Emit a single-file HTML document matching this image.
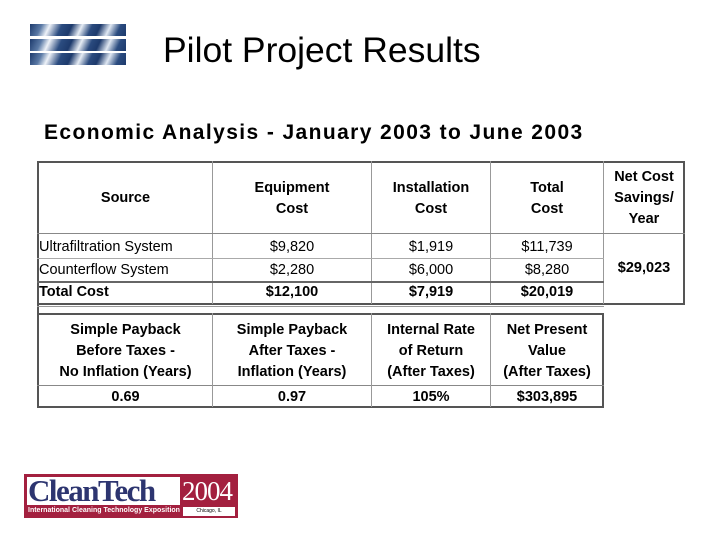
<!DOCTYPE html>
<html><head><meta charset="utf-8"><style>
body{margin:0;width:720px;height:540px;background:#fff;position:relative;overflow:hidden;font-family:"Liberation Sans",Arial,sans-serif;color:#000}
.a{position:absolute}
.h{position:absolute;background:#555}
.t{position:absolute;text-align:center;font-size:14.5px;line-height:21px}
.b{font-weight:bold}
.stripe{position:absolute;left:30px;width:96px;height:12px;background:linear-gradient(115deg,#1d3a6c 0%,#5b7aa6 12%,#eef2f8 20%,#2b4c80 32%,#1d3a6c 42%,#e6ecf4 52%,#2a4a7e 62%,#1d3a6c 70%,#dfe7f2 80%,#2b4c80 90%,#1d3a6c 100%)}
</style></head><body>
<div class="stripe" style="top:24px"></div>
<div class="stripe" style="top:39px"></div>
<div class="stripe" style="top:53px"></div>
<div class="a" style="left:163px;top:29px;font-size:35.5px;line-height:42px">Pilot Project Results</div>
<div class="a b" style="left:44px;top:120px;font-size:21px;line-height:26px;letter-spacing:1.4px;white-space:nowrap">Economic Analysis - January 2003 to June 2003</div>

<div>
<div class="h" style="left:37px;top:161px;width:648px;height:2px"></div>
<div class="h" style="left:37px;top:161px;width:2px;height:153px"></div>
<div class="h" style="left:683px;top:161px;width:2px;height:144px"></div>
<div class="h" style="left:37px;top:303px;width:648px;height:2px"></div>
<div class="h" style="left:37px;top:306px;width:567px;height:1px;background:#999"></div>
<div class="h" style="left:212px;top:161px;width:1px;height:143px;background:#999"></div>
<div class="h" style="left:371px;top:161px;width:1px;height:143px;background:#999"></div>
<div class="h" style="left:490px;top:161px;width:1px;height:143px;background:#999"></div>
<div class="h" style="left:603px;top:161px;width:1px;height:143px;background:#999"></div>
<div class="h" style="left:37px;top:233px;width:648px;height:1px;background:#888"></div>
<div class="h" style="left:37px;top:258px;width:567px;height:1px;background:#aaa"></div>
<div class="h" style="left:37px;top:281px;width:567px;height:2px;background:#666"></div>
</div>
<div class="t b" style="left:39px;top:188px;width:173px">Source</div>
<div class="t b" style="left:213px;top:178px;width:158px">Equipment<br>Cost</div>
<div class="t b" style="left:372px;top:178px;width:118px">Installation<br>Cost</div>
<div class="t b" style="left:491px;top:178px;width:112px">Total<br>Cost</div>
<div class="t b" style="left:604px;top:167px;width:80px">Net Cost<br>Savings/<br>Year</div>
<div class="t" style="left:39px;top:237px;text-align:left">Ultrafiltration System</div>
<div class="t" style="left:39px;top:260px;text-align:left">Counterflow System</div>
<div class="t b" style="left:39px;top:282px;text-align:left">Total Cost</div>
<div class="t" style="left:213px;top:237px;width:158px">$9,820</div>
<div class="t" style="left:213px;top:260px;width:158px">$2,280</div>
<div class="t b" style="left:213px;top:282px;width:158px">$12,100</div>
<div class="t" style="left:372px;top:237px;width:118px">$1,919</div>
<div class="t" style="left:372px;top:260px;width:118px">$6,000</div>
<div class="t b" style="left:372px;top:282px;width:118px">$7,919</div>
<div class="t" style="left:491px;top:237px;width:112px">$11,739</div>
<div class="t" style="left:491px;top:260px;width:112px">$8,280</div>
<div class="t b" style="left:491px;top:282px;width:112px">$20,019</div>
<div class="t b" style="left:604px;top:258px;width:80px">$29,023</div>

<div>
<div class="h" style="left:37px;top:313px;width:567px;height:2px"></div>
<div class="h" style="left:37px;top:313px;width:2px;height:95px"></div>
<div class="h" style="left:602px;top:313px;width:2px;height:95px"></div>
<div class="h" style="left:37px;top:406px;width:567px;height:2px"></div>
<div class="h" style="left:37px;top:385px;width:567px;height:1px;background:#888"></div>
<div class="h" style="left:212px;top:313px;width:1px;height:94px;background:#999"></div>
<div class="h" style="left:371px;top:313px;width:1px;height:94px;background:#999"></div>
<div class="h" style="left:490px;top:313px;width:1px;height:94px;background:#999"></div>
</div>
<div class="t b" style="left:39px;top:320px;width:173px">Simple Payback<br>Before Taxes -<br>No Inflation (Years)</div>
<div class="t b" style="left:213px;top:320px;width:158px">Simple Payback<br>After Taxes -<br>Inflation (Years)</div>
<div class="t b" style="left:372px;top:320px;width:118px">Internal Rate<br>of Return<br>(After Taxes)</div>
<div class="t b" style="left:491px;top:320px;width:112px">Net Present<br>Value<br>(After Taxes)</div>
<div class="t b" style="left:39px;top:387px;width:173px">0.69</div>
<div class="t b" style="left:213px;top:387px;width:158px">0.97</div>
<div class="t b" style="left:372px;top:387px;width:118px">105%</div>
<div class="t b" style="left:491px;top:387px;width:112px">$303,895</div>

<div class="a" style="left:24px;top:474px;width:214px;height:44px;background:#a3203f;overflow:hidden">
  <div class="a" style="left:3px;top:3px;width:153px;height:28px;background:#fff"></div>
  <div class="a" style="left:4px;top:0px;font-family:'Liberation Serif',serif;font-weight:bold;font-size:31px;line-height:34px;color:#2d3570;letter-spacing:-1.5px">CleanTech</div>
  <div class="a" style="left:158px;top:2px;font-family:'Liberation Serif',serif;font-size:27px;line-height:30px;color:#fff;letter-spacing:-1px">2004</div>
  <div class="a" style="left:4px;top:32px;font-size:7px;line-height:10px;color:#fff;font-weight:bold">International Cleaning Technology Exposition</div>
  <div class="a" style="left:159px;top:33px;width:52px;height:9px;background:#fff;font-size:5px;line-height:9px;text-align:center">Chicago, IL</div>
</div>
</body></html>
